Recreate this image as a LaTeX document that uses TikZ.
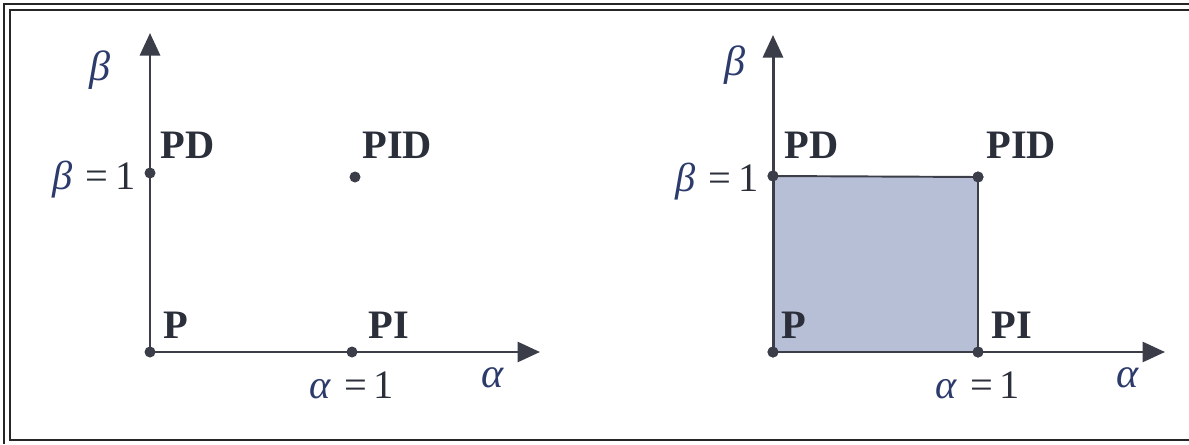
\documentclass[tikz,border=0pt]{standalone}
\usepackage{fontspec}
\setmainfont{Liberation Serif}
\usetikzlibrary{arrows.meta}
\definecolor{axgray}{HTML}{3B3E48}
\definecolor{gkblue}{HTML}{2C3B6B}
\definecolor{lblink}{HTML}{2A2F3A}
\definecolor{regfill}{HTML}{B7BFD6}

\begin{document}
\begin{tikzpicture}[
  >={Triangle[length=4.5mm, width=4mm]},
  every node/.style={font=\fontsize{23}{27}\selectfont},
  axis/.style={axgray, line width=1.7pt},
  dot/.style={circle, fill=axgray, inner sep=0pt, minimum size=2.2mm},
  gain/.style={text=lblink, font=\fontsize{23}{27}\selectfont\bfseries, anchor=west, inner sep=0pt},
  greek/.style={text=gkblue, font=\fontsize{24}{28}\selectfont\itshape, inner sep=0pt},
  level/.style={text=lblink, inner sep=0pt},
]

% Frame (open on the right, as cropped)
\useasboundingbox (0,0) rectangle (23.78,8.88);
\draw[black!85, line width=1.1pt] (23.78,8.8) -- (0.08,8.8) -- (0.08,0);
\draw[black!85, line width=1.1pt] (23.78,8.68) -- (0.2,8.68) -- (0.2,0.08) -- (23.78,0.08);

% --- Left panel: the four controllers ---
\coordinate (o1) at (3.0,1.84);
\coordinate (ytip1) at (3.0,8.22);
\coordinate (xtip1) at (10.8,1.84);
\draw[axis, ->] (o1) -- (ytip1);
\draw[axis, ->] (o1) -- (xtip1);

\node[dot] (p1) at (o1) {};
\node[dot] (pd1) at (3.0,5.42) {};
\node[dot] (pid1) at (7.1,5.34) {};
\node[dot] (pi1) at (7.04,1.84) {};

\node[greek] (beta1) at (2.0,7.48) {β};
\node[level, anchor=east] (bone1) at (2.72,5.28) {\textcolor{gkblue}{\itshape β}\,\,=\,1};
\node[gain] (pdlbl1) at (3.2,5.98) {PD};
\node[gain] (pidlbl1) at (7.24,5.98) {PID};
\node[gain] (plbl1) at (3.26,2.38) {P};
\node[gain] (pilbl1) at (7.36,2.38) {PI};
\node[level] (aone1) at (7.04,1.18) {\textcolor{gkblue}{\itshape α}\,\,=\,1};
\node[greek] (alpha1) at (9.86,1.32) {α};

% --- Right panel: admissible region ---
\coordinate (o2) at (15.46,1.84);
\coordinate (ytip2) at (15.46,8.18);
\coordinate (xtip2) at (23.3,1.84);
\node[dot] (p2) at (o2) {};
\node[dot] (pd2) at (15.46,5.36) {};
\node[dot] (pid2) at (19.56,5.34) {};
\node[dot] (pi2) at (19.56,1.84) {};

% Region
\fill[regfill] (p2.center) -- (pd2.center) -- (pid2.center) -- (pi2.center) -- cycle;
\draw[axgray, line width=1.1pt] (pd2.center) -- (pid2.center) -- (pi2.center);

\draw[axis, ->] (o2) -- (ytip2);
\draw[axis, ->] (o2) -- (xtip2);
\foreach \n in {p2, pd2, pid2, pi2}
  \fill[axgray] (\n) circle (1.1mm);

\node[greek] (beta2) at (14.7,7.58) {β};
\node[level, anchor=east] (bone2) at (15.18,5.24) {\textcolor{gkblue}{\itshape β}\,\,=\,1};
\node[gain] (pdlbl2) at (15.68,5.98) {PD};
\node[gain] (pidlbl2) at (19.72,5.98) {PID};
\node[gain] (plbl2) at (15.62,2.38) {P};
\node[gain] (pilbl2) at (19.82,2.38) {PI};
\node[level] (aone2) at (19.56,1.18) {\textcolor{gkblue}{\itshape α}\,\,=\,1};
\node[greek] (alpha2) at (22.56,1.32) {α};

\end{tikzpicture}
\end{document}
